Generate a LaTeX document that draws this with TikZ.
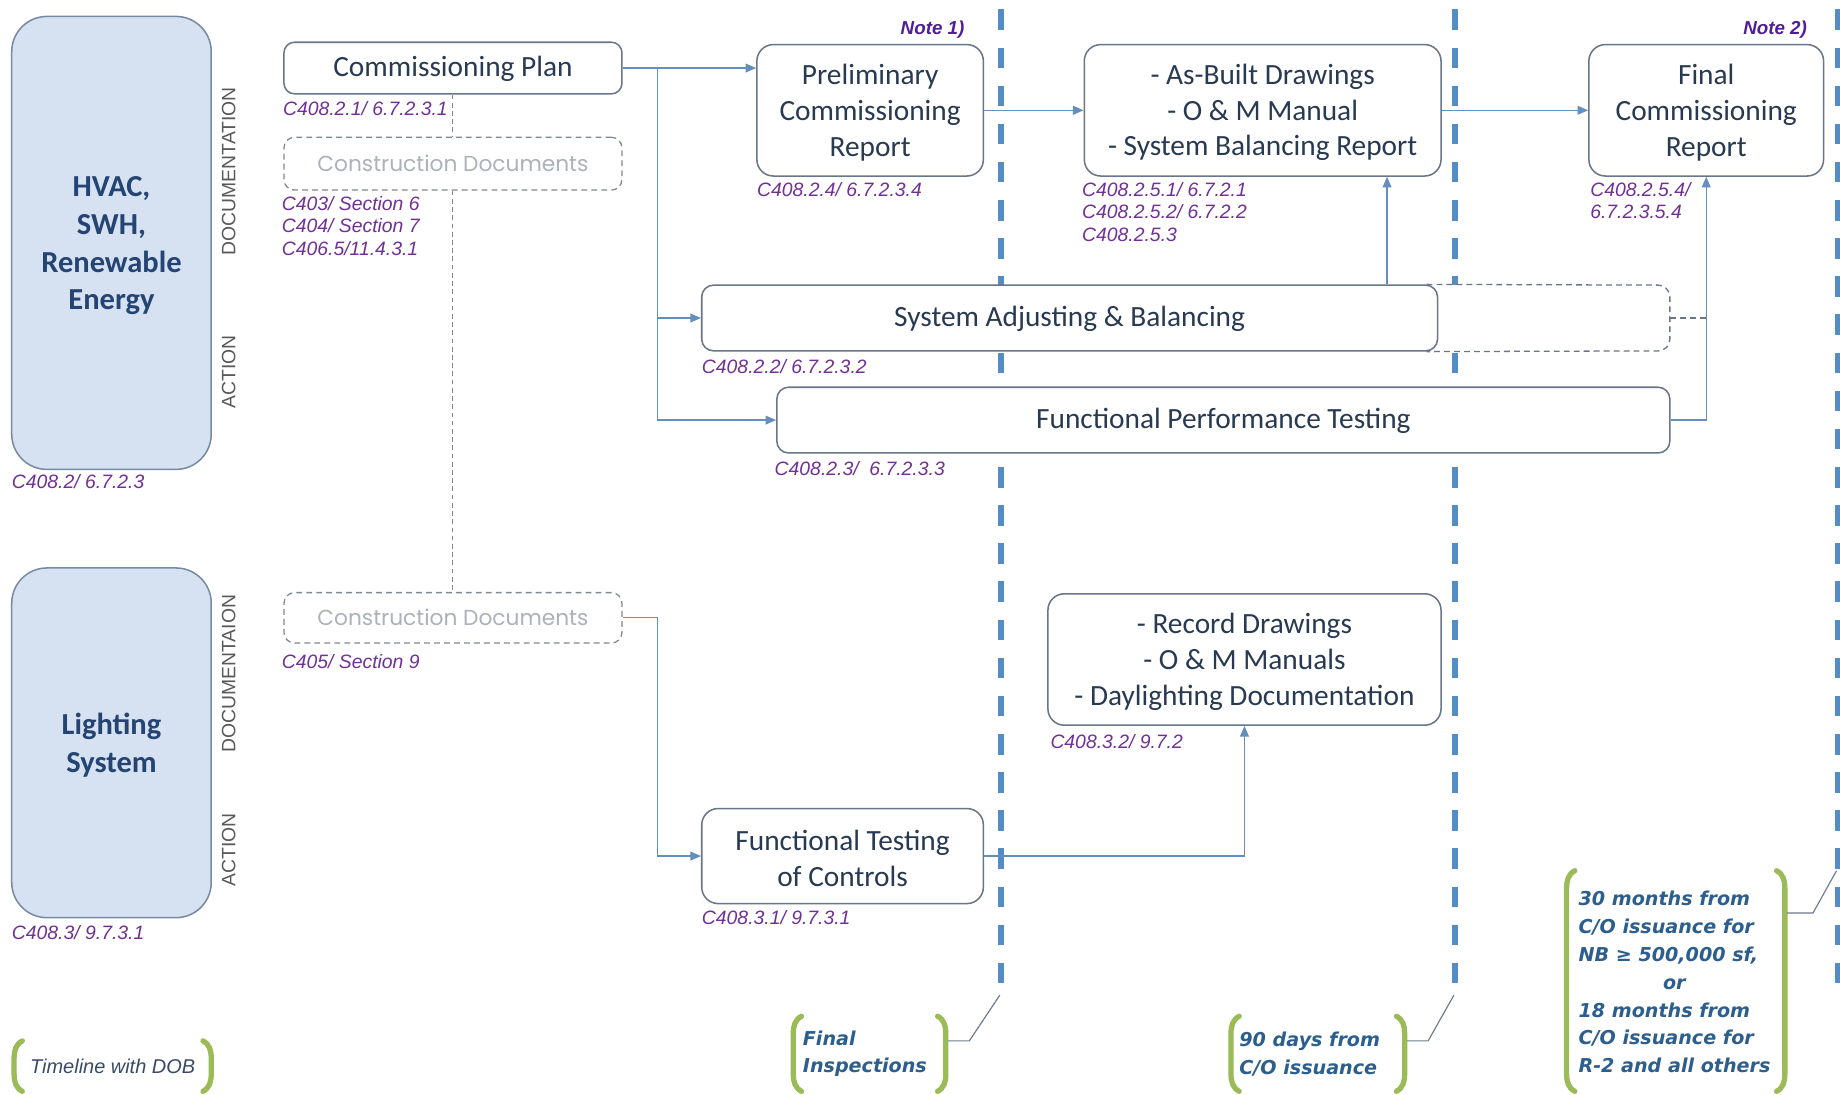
\documentclass[tikz,border=0pt]{standalone}
\usepackage{fontspec}
\setmainfont{Carlito}
\newfontfamily\arialf{Liberation Sans}
\newfontfamily\dejaf{DejaVu Sans}
\newfontfamily\popf{Poppins}
\usetikzlibrary{arrows.meta,calc}
\definecolor{boxdraw}{RGB}{104,118,136}
\definecolor{boxtext}{RGB}{40,58,82}
\definecolor{sidefill}{RGB}{214,226,242}
\definecolor{sidedraw}{RGB}{120,138,162}
\definecolor{sidetext}{RGB}{36,68,115}
\definecolor{cddraw}{RGB}{130,136,144}
\definecolor{cdtext}{RGB}{172,178,186}
\definecolor{refpurple}{RGB}{112,48,150}
\definecolor{notepurple}{RGB}{80,30,150}
\definecolor{arrowc}{RGB}{100,142,188}
\definecolor{tlblue}{RGB}{84,140,198}
\definecolor{bgreen}{RGB}{155,187,89}
\definecolor{btext}{RGB}{44,94,142}
\definecolor{tltext}{RGB}{55,75,105}
\definecolor{leadc}{RGB}{110,125,140}
\newcommand\leftbrk[3]{\draw[bracket] (#1+7,#2) .. controls (#1+1.5,#2+3) and (#1,#2+8) .. (#1,#2+15) -- (#1,#3-15) .. controls (#1,#3-8) and (#1+1.5,#3-3) .. (#1+7,#3);}
\newcommand\rightbrk[3]{\draw[bracket] (#1-7,#2) .. controls (#1-1.5,#2+3) and (#1,#2+8) .. (#1,#2+15) -- (#1,#3-15) .. controls (#1,#3-8) and (#1-1.5,#3-3) .. (#1-7,#3);}
\begin{document}
\begin{tikzpicture}[x=1pt,y=-1pt,
  box/.style={draw=boxdraw, line width=1.3pt, fill=white, rounded corners=14pt, align=center, text=boxtext, font=\fontsize{25}{30.5}\selectfont, inner sep=0pt},
  sidebox/.style={draw=sidedraw, line width=1.3pt, fill=sidefill, rounded corners=30pt, align=center, text=sidetext, font=\bfseries\fontsize{26}{32}\selectfont, inner sep=0pt, minimum width=170pt},
  cdbox/.style={draw=cddraw, line width=1.1pt, dash pattern=on 5pt off 3.5pt, fill=white, rounded corners=9pt, text=cdtext, font=\popf\fontsize{18.5}{20}\selectfont, inner sep=0pt, minimum width=288pt},
  ref/.style={font=\arialf\itshape\fontsize{16.5}{19}\selectfont, text=refpurple, anchor=base west, inner sep=0pt},
  vlab/.style={font=\arialf\fontsize{16.5}{20}\selectfont, text=black!65, rotate=90, inner sep=0pt},
  note/.style={font=\arialf\bfseries\itshape\fontsize{16}{20}\selectfont, text=notepurple, anchor=base east, inner sep=0pt},
  btxt/.style={font=\dejaf\bfseries\itshape\fontsize{16.3}{23.7}\selectfont, text=btext, align=left, inner sep=0pt, anchor=west},
  arr/.style={draw=arrowc, line width=1.1pt, -{Triangle[length=9pt,width=7.5pt]}},
  conn/.style={draw=arrowc, line width=1.1pt},
  tline/.style={draw=tlblue, line width=5pt, dash pattern=on 17.5pt off 15pt},
  bracket/.style={draw=bgreen, line width=4.5pt, line cap=round},
  lead/.style={draw=leadc, line width=1pt},
  gdash/.style={draw=cddraw, line width=0.8pt, dash pattern=on 4pt off 3pt},
  extdash/.style={draw=boxdraw, line width=1.1pt, dash pattern=on 5pt off 3.5pt, rounded corners=10pt}
]
\useasboundingbox (0,0) rectangle (1568,933);
\fill[white] (0,0) rectangle (1568,933);

% timeline lines
\draw[tline] (853,8) -- (853,848);
\draw[tline] (1240,8) -- (1240,848);
\draw[tline] (1566,8) -- (1566,848);

% side boxes
\node[sidebox, minimum height=386pt] (hvac) at (95,207) {\rule{0pt}{22pt}HVAC,\\SWH,\\Renewable\\Energy};
\node[sidebox, minimum height=298pt] (light) at (95,633) {\rule{0pt}{22pt}Lighting\\System};
\node[ref] (rhvac) at (10,416.5) {C408.2/ 6.7.2.3};
\node[ref] (rlight) at (10,800.5) {C408.3/ 9.7.3.1};

\node[vlab] (doc1) at (195,146) {DOCUMENTATION};
\node[vlab] (act1) at (195,317) {ACTION};
\node[vlab] (doc2) at (195,574) {DOCUMENTAION};
\node[vlab] (act2) at (195,724) {ACTION};

% left column
\node[box, minimum width=288pt, minimum height=44pt, rounded corners=9pt] (cplan) at (386,58) {\rule{0pt}{19pt}Commissioning Plan};
\node[ref] (rcplan) at (241,98.5) {C408.2.1/ 6.7.2.3.1};
\node[cdbox, minimum height=45pt] (cd1) at (386,139.5) {Construction Documents};
\node[ref] (rcd1a) at (240,179.5) {C403/ Section 6};
\node[ref] (rcd1b) at (240,198.5) {C404/ Section 7};
\node[ref] (rcd1c) at (240,217.5) {C406.5/11.4.3.1};
\node[cdbox, minimum height=43pt] (cd2) at (386,526.5) {Construction Documents};
\node[ref] (rcd2) at (240,569.5) {C405/ Section 9};
\draw[gdash] (cplan.south) -- (cd1.north);
\draw[gdash] (cd1.south) -- (cd2.north);

% top row
\node[box, minimum width=193pt, minimum height=112pt] (prelim) at (741.5,94) {\rule{0pt}{21pt}Preliminary\\Commissioning\\Report};
\node[ref] (rprelim) at (645,167.5) {C408.2.4/ 6.7.2.3.4};
\node[note] (note1) at (822,29.5) {Note 1)};
\node[box, minimum width=304pt, minimum height=112pt] (asbuilt) at (1076,94) {\rule{0pt}{21pt}- As-Built Drawings\\- O \& M Manual\\- System Balancing Report};
\node[ref] (rab1) at (922,167.5) {C408.2.5.1/ 6.7.2.1};
\node[ref] (rab2) at (922,186.5) {C408.2.5.2/ 6.7.2.2};
\node[ref] (rab3) at (922,205.5) {C408.2.5.3};
\node[box, minimum width=200pt, minimum height=112pt] (final) at (1454,94) {\rule{0pt}{21pt}Final\\Commissioning\\Report};
\node[ref] (rfin1) at (1355,167.5) {C408.2.5.4/};
\node[ref] (rfin2) at (1355,186.5) {6.7.2.3.5.4};
\node[note] (note2) at (1540,29.5) {Note 2)};

% action bars
\fill[white] (1226,243) rectangle (1423,299);
\node[box, minimum width=627pt, minimum height=56pt, rounded corners=10pt] (sab) at (911.5,271) {\rule{0pt}{19pt}System Adjusting \& Balancing};
\draw[extdash] ([xshift=-10pt]sab.north east) -- (1423,243) -- (1423,299) -- ([xshift=-10pt]sab.south east);
\coordinate (sx) at (1423,271);
\node[ref] (rsab) at (598,318.5) {C408.2.2/ 6.7.2.3.2};
\node[box, minimum width=761pt, minimum height=56pt, rounded corners=10pt] (fpt) at (1042.5,358) {\rule{0pt}{19pt}Functional Performance Testing};
\node[ref] (rfpt) at (660,405.5) {C408.2.3/~ 6.7.2.3.3};

% lighting row
\node[box, minimum width=335pt, minimum height=112pt] (record) at (1060.5,562) {\rule{0pt}{21pt}- Record Drawings\\- O \& M Manuals\\- Daylighting Documentation};
\node[ref] (rrec) at (895,637.5) {C408.3.2/ 9.7.2};
\node[box, minimum width=240pt, minimum height=81pt] (ftc) at (718,729.5) {\rule{0pt}{21pt}Functional Testing\\of Controls};
\node[ref] (rftc) at (598,787.5) {C408.3.1/ 9.7.3.1};

% connectors
\coordinate (j1) at (560,58);
\coordinate (c1) at (1182,0);
\draw[arr] (cplan.east) -- (cplan.east -| prelim.west);
\draw[arr] (j1) |- (sab.west);
\draw[arr] (j1) |- (fpt.west);
\draw[arr] (prelim.east) -- (asbuilt.west);
\draw[arr] (asbuilt.east) -- (final.west);
\draw[arr] (sab.north -| c1) -- (asbuilt.south -| c1);
\draw[arr] (fpt.east) -| (final.south);
\draw[extdash, rounded corners=0pt] (sx) -- (sx -| final.south);
\draw[arr] (cd2.east) -- ++(30,0) |- (ftc.west);
\draw[arr] (ftc.east) -| (record.south);

% bracket notes
\leftbrk{12}{887}{930}
\rightbrk{180}{887}{930}
\node[font=\arialf\itshape\fontsize{17}{20}\selectfont, text=tltext, inner sep=0pt] (tdob) at (96,909) {Timeline with DOB};

\leftbrk{676}{866}{930}
\rightbrk{806}{866}{930}
\node[btxt] (finsp) at (684,898) {Final\\Inspections};
\draw[lead] (808,887) -- (826,887) -- (852,848);

\leftbrk{1049}{866}{930}
\rightbrk{1197}{866}{930}
\node[btxt] (ninety) at (1056,898) {90 days from\\C/O issuance};
\draw[lead] (1199,887) -- (1217,887) -- (1239,848);

\leftbrk{1335}{742}{930}
\rightbrk{1521}{742}{930}
\node[btxt] (thirty) at (1345,837) {30 months from\\C/O issuance for\\NB ≥ 500,000 sf,\\\hspace*{72pt}or\\18 months from\\C/O issuance for\\R-2 and all others};
\draw[lead] (1523,778) -- (1545,778) -- (1565,742);
\end{tikzpicture}
\end{document}
